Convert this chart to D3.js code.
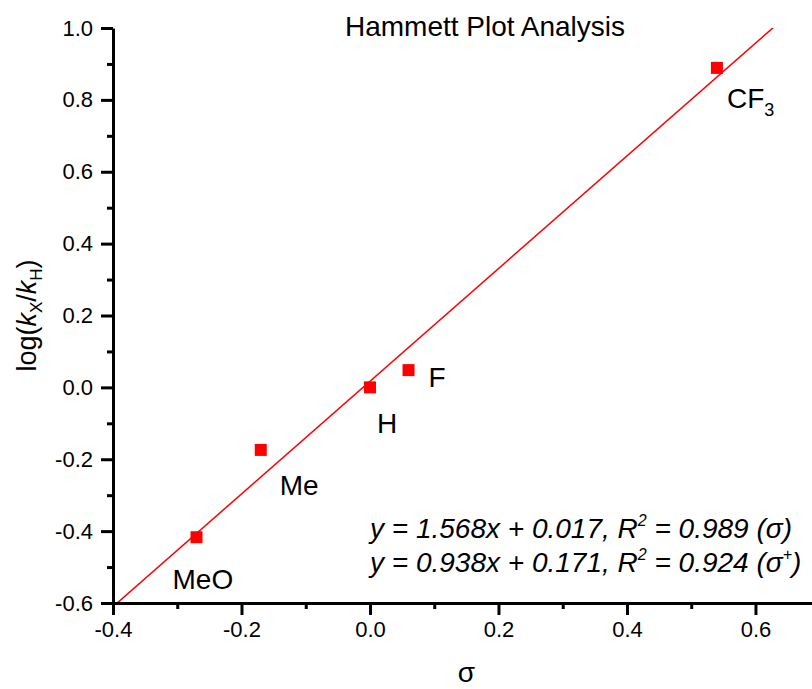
<!DOCTYPE html>
<html>
<head>
<meta charset="utf-8">
<script src="https://cdn.jsdelivr.net/npm/d3@7.9.0/dist/d3.min.js"></script>
<style>
  body { margin: 0; background: #fff; }
  text { font-family: "Liberation Sans", Arial, sans-serif; fill: #000; }
</style>
</head>
<body>
<svg id="chart" width="812" height="689"></svg>
<script>
// data
const substituents = ['MeO', 'Me', 'H', 'F', 'CF3'];
const sigma = [-0.27, -0.17, 0.0, 0.06, 0.54];
const logRatio = [-0.417, -0.174, 0.0, 0.048, 0.889];
const fitSlope = 1.568;
const fitIntercept = 0.017;
const xTicks = [-0.4, -0.2, 0.0, 0.2, 0.4, 0.6];
const yTicks = [-0.6, -0.4, -0.2, 0.0, 0.2, 0.4, 0.6, 0.8, 1.0];
const xMinorTicks = [-0.3, -0.1, 0.1, 0.3, 0.5];
const yMinorTicks = [-0.5, -0.3, -0.1, 0.1, 0.3, 0.5, 0.7, 0.9];
const equations = [
  { text: 'y = 1.568x + 0.017, R', sup: '2', tail: ' = 0.989 (σ', tailSup: '', end: ')' },
  { text: 'y = 0.938x + 0.171, R', sup: '2', tail: ' = 0.924 (σ', tailSup: '+', end: ')' },
];

const points = substituents.map((s, i) => ({ name: s, x: sigma[i], y: logRatio[i] }));

// label placement relative to each point
const labelOffset = {
  MeO: [-24, 52], Me: [19, 45], H: [7, 46], F: [20, 17], CF3: [10, 40],
};

const width = 812, height = 689;
const margin = { top: 28, right: 0, bottom: 86, left: 113 };

const svg = d3.select('#chart');

const xScale = d3.scaleLinear()
  .domain([-0.4, 0.688])
  .range([margin.left, width - margin.right]);

const yScale = d3.scaleLinear()
  .domain([-0.6, 1.0])
  .range([height - margin.bottom, margin.top]);

svg.append('defs').append('clipPath').attr('id', 'plot-clip')
  .append('rect')
  .attr('x', margin.left)
  .attr('y', margin.top)
  .attr('width', width - margin.left - margin.right)
  .attr('height', height - margin.bottom - margin.top);

// fit line
const lineX = d3.extent(xScale.domain());
svg.append('line')
  .attr('clip-path', 'url(#plot-clip)')
  .attr('x1', xScale(lineX[0]))
  .attr('y1', yScale(fitSlope * lineX[0] + fitIntercept))
  .attr('x2', xScale(lineX[1]))
  .attr('y2', yScale(fitSlope * lineX[1] + fitIntercept))
  .attr('stroke', '#ff0000')
  .attr('stroke-width', 1.5);

const fmt = d => d.toFixed(1);

// minor ticks
svg.append('g')
  .attr('transform', `translate(0, ${height - margin.bottom})`)
  .call(d3.axisBottom(xScale).tickValues(xMinorTicks).tickSize(6).tickFormat(''))
  .call(g => g.select('.domain').remove())
  .call(g => g.selectAll('line').attr('stroke-width', 3));

svg.append('g')
  .attr('transform', `translate(${margin.left}, 0)`)
  .call(d3.axisLeft(yScale).tickValues(yMinorTicks).tickSize(6).tickFormat(''))
  .call(g => g.select('.domain').remove())
  .call(g => g.selectAll('line').attr('stroke-width', 3));

// X axis
svg.append('g')
  .attr('transform', `translate(0, ${height - margin.bottom})`)
  .call(d3.axisBottom(xScale).tickValues(xTicks).tickSize(12).tickSizeOuter(0)
    .tickPadding(6).tickFormat(fmt))
  .call(g => g.select('.domain').attr('stroke-width', 3))
  .call(g => g.selectAll('line').attr('stroke-width', 3))
  .call(g => g.selectAll('text')
    .attr('font-size', 22)
    .style('font-family', '"Liberation Sans", Arial, sans-serif'));

// Y axis
svg.append('g')
  .attr('transform', `translate(${margin.left}, 0)`)
  .call(d3.axisLeft(yScale).tickValues(yTicks).tickSize(12).tickSizeOuter(0)
    .tickPadding(8).tickFormat(fmt))
  .call(g => g.select('.domain').attr('stroke-width', 3))
  .call(g => g.selectAll('line').attr('stroke-width', 3))
  .call(g => g.selectAll('text')
    .attr('font-size', 22)
    .style('font-family', '"Liberation Sans", Arial, sans-serif'));

// points
const sq = 12;
svg.append('g')
  .selectAll('rect')
  .data(points)
  .join('rect')
  .attr('x', d => xScale(d.x) - sq / 2)
  .attr('y', d => yScale(d.y) - sq / 2)
  .attr('width', sq)
  .attr('height', sq)
  .attr('fill', '#ff0000');

// point labels
const labels = svg.append('g')
  .selectAll('text')
  .data(points)
  .join('text')
  .attr('x', d => xScale(d.x) + labelOffset[d.name][0])
  .attr('y', d => yScale(d.y) + labelOffset[d.name][1])
  .attr('font-size', 28);

labels.each(function (d) {
  const t = d3.select(this);
  const m = d.name.match(/^([A-Za-z]+)(\d*)$/);
  t.append('tspan').text(m[1]);
  if (m[2]) {
    t.append('tspan').attr('font-size', 18).attr('dy', 8).text(m[2]);
  }
});

// title
svg.append('text')
  .attr('x', 485)
  .attr('y', 36)
  .attr('text-anchor', 'middle')
  .attr('font-size', 28)
  .text('Hammett Plot Analysis');

// axis titles
svg.append('text')
  .attr('x', xScale(0.15))
  .attr('y', 682)
  .attr('text-anchor', 'middle')
  .attr('font-size', 28)
  .text('σ');

const yLabel = svg.append('text')
  .attr('transform', `translate(36, ${yScale(0.2)}) rotate(-90)`)
  .attr('text-anchor', 'middle')
  .attr('font-size', 27);
yLabel.append('tspan').text('log(');
yLabel.append('tspan').attr('font-style', 'italic').text('k');
yLabel.append('tspan').attr('font-size', 17).attr('dy', 6).text('X');
yLabel.append('tspan').attr('dy', -6).text('/');
yLabel.append('tspan').attr('font-style', 'italic').text('k');
yLabel.append('tspan').attr('font-size', 17).attr('dy', 6).text('H');
yLabel.append('tspan').attr('dy', -6).text(')');

// fit equations
equations.forEach((eq, i) => {
  const t = svg.append('text')
    .attr('x', 370)
    .attr('y', 538 + i * 34)
    .attr('font-size', 28)
    .attr('font-style', 'italic');
  t.append('tspan').text(eq.text);
  t.append('tspan').attr('font-size', 16).attr('dy', -12).text(eq.sup);
  t.append('tspan').attr('dy', 12).text(eq.tail);
  if (eq.tailSup) {
    t.append('tspan').attr('font-size', 16).attr('dy', -12).text(eq.tailSup);
    t.append('tspan').attr('dy', 12).text(eq.end);
  } else {
    t.append('tspan').text(eq.end);
  }
});
</script>
</body>
</html>
